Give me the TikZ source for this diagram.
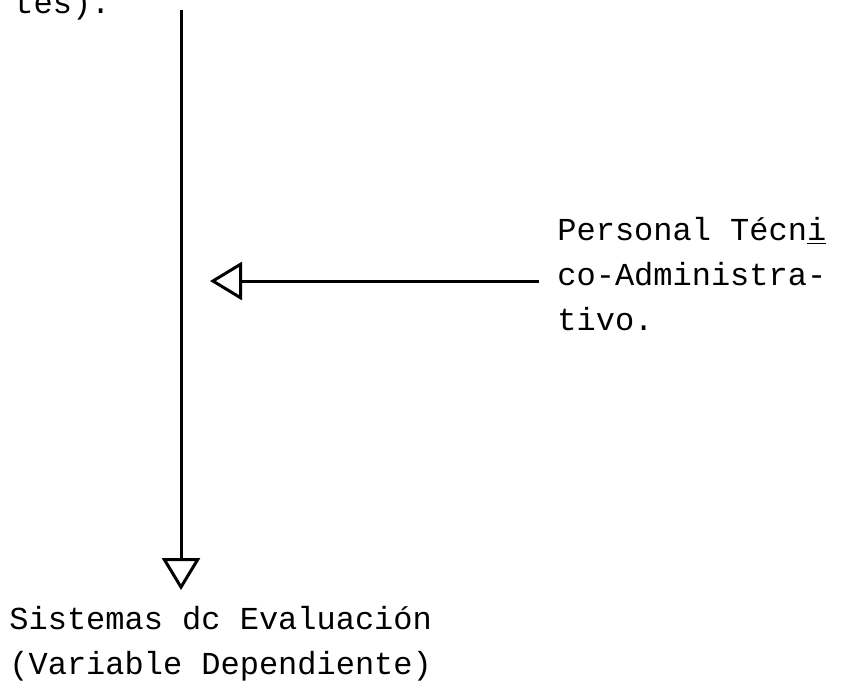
\documentclass[tikz,border=0pt]{standalone}
\usepackage{fontspec}
\setmainfont{Liberation Mono}
\usetikzlibrary{arrows.meta}

\tikzset{
  flecha/.style={line width=1.5pt, -{Triangle[open, length=16pt, width=19pt]}},
  texto/.style={inner sep=0pt, font=\fontsize{16}{22.5}\selectfont, align=left}
}

\begin{document}
\begin{tikzpicture}[x=0.5pt, y=-0.5pt]
\useasboundingbox (0,0) rectangle (849,687);

\node[texto, anchor=base west] (previo) at (14,13) {tes).};

\coordinate (arriba) at (181,10);
\coordinate (abajo) at (181,590);
\draw[flecha] (arriba) -- (abajo);

\node[texto, anchor=west] (tecadm) at (557,274)
  {Personal Técn\underline{i}\\co-Administra-\\tivo.};
\coordinate (punta) at (210,281);
\draw[flecha] ([xshift=-9pt]tecadm.west |- punta) -- (punta);

\node[texto, anchor=base west] (sistemas) at (9,674)
  {Sistemas dc Evaluación\\(Variable Dependiente)};
\end{tikzpicture}
\end{document}
